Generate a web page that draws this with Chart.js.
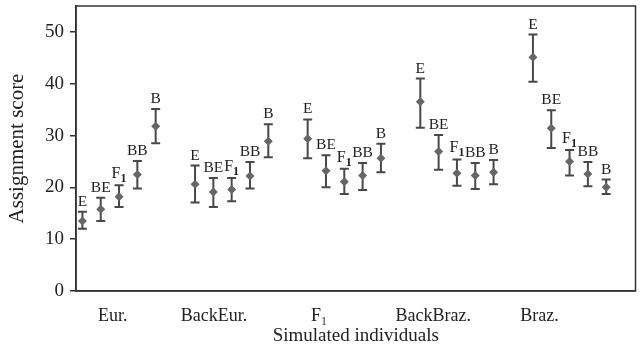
<!DOCTYPE html>
<html>
<head>
<meta charset="utf-8">
<script src="https://cdn.jsdelivr.net/npm/chart.js@4.4.1/dist/chart.umd.min.js"></script>
<style>
    body { margin: 0; background: #fff; }
    #wrap { width: 640px; height: 347px; position: relative; }
</style>
</head>
<body>
<div id="wrap"><canvas id="scoreChart"></canvas></div>
<script>
const groups = ["Eur.", "BackEur.", "F\u2081", "BackBraz.", "Braz."];
const classes = ["E", "BE", "F1", "BB", "B"];

// mean assignment score per group, one value per simulated class
const eurMean = [13.5, 15.8, 18.2, 22.5, 31.8];
const backEurMean = [20.6, 19.1, 19.6, 22.2, 28.9];
const f1Mean = [29.4, 23.2, 21.1, 22.3, 25.6];
const backBrazMean = [36.5, 26.9, 22.7, 22.3, 22.9];
const brazMean = [45.1, 31.4, 25.0, 22.6, 20.0];

// upper / lower ends of the error bars
const eurHigh = [15.3, 18.0, 20.4, 25.1, 35.1];
const eurLow = [12.0, 13.5, 16.2, 19.8, 28.5];
const backEurHigh = [24.2, 21.8, 21.8, 24.9, 32.2];
const backEurLow = [17.1, 16.2, 17.3, 19.8, 25.8];
const f1High = [33.1, 26.2, 23.6, 24.7, 28.4];
const f1Low = [25.6, 20.0, 18.7, 19.5, 22.9];
const backBrazHigh = [41.0, 30.1, 25.4, 24.7, 25.3];
const backBrazLow = [31.5, 23.4, 20.3, 19.7, 20.6];
const brazHigh = [49.5, 34.9, 27.2, 24.9, 21.5];
const brazLow = [40.4, 27.6, 22.3, 20.2, 18.7];

const yTicks = [0, 10, 20, 30, 40, 50];
const groupTickPos = [1.65, 7.18, 12.93, 19.16, 24.96];

const means = [eurMean, backEurMean, f1Mean, backBrazMean, brazMean];
const highs = [eurHigh, backEurHigh, f1High, backBrazHigh, brazHigh];
const lows = [eurLow, backEurLow, f1Low, backBrazLow, brazLow];

const GROUP_GAP = 6.15;
const SERIF = "'Liberation Serif', 'Times New Roman', serif";

const points = [];
const bars = [];
means.forEach((row, g) => {
    row.forEach((v, m) => {
        const x = g * GROUP_GAP + m;
        points.push({ x: x, y: v });
        bars.push({ x: x, hi: highs[g][m], lo: lows[g][m], cls: classes[m] });
    });
});

const errorBars = {
    id: "errorBars",
    beforeDatasetsDraw(chart) {
        const { ctx, scales: { x, y } } = chart;
        ctx.save();
        ctx.strokeStyle = "#484848";
        ctx.lineWidth = 2;
        bars.forEach(b => {
            const px = x.getPixelForValue(b.x);
            const top = y.getPixelForValue(b.hi);
            const bot = y.getPixelForValue(b.lo);
            ctx.beginPath();
            ctx.moveTo(px, top); ctx.lineTo(px, bot);
            ctx.moveTo(px - 4.5, top); ctx.lineTo(px + 4.5, top);
            ctx.moveTo(px - 4.5, bot); ctx.lineTo(px + 4.5, bot);
            ctx.stroke();
        });
        ctx.restore();
    },
    afterDatasetsDraw(chart) {
        const { ctx, scales: { x, y }, chartArea } = chart;
        ctx.save();
        ctx.fillStyle = "#222";
        ctx.textBaseline = "alphabetic";
        bars.forEach(b => {
            const px = x.getPixelForValue(b.x);
            const base = y.getPixelForValue(b.hi) - 6;
            if (b.cls === "F1") {
                ctx.font = "16px " + SERIF;
                const wF = ctx.measureText("F").width;
                ctx.font = "bold 12px " + SERIF;
                const w1 = ctx.measureText("1").width;
                const start = px - (wF + w1) / 2;
                ctx.textAlign = "left";
                ctx.font = "16px " + SERIF;
                ctx.fillText("F", start, base - 1);
                ctx.font = "bold 12px " + SERIF;
                ctx.fillText("1", start + wF, base + 3);
            } else {
                ctx.textAlign = "center";
                ctx.font = "15.5px " + SERIF;
                ctx.fillText(b.cls, px, base);
            }
        });
        // frame
        ctx.strokeStyle = "#333";
        ctx.lineWidth = 1.5;
        ctx.strokeRect(chartArea.left, chartArea.top, chartArea.right - chartArea.left, chartArea.bottom - chartArea.top);
        ctx.restore();
    }
};

new Chart(document.getElementById("scoreChart"), {
    type: "scatter",
    data: {
        datasets: [{
            label: "Assignment score",
            data: points,
            pointStyle: "rectRot",
            pointRadius: 4.5,
            backgroundColor: "#666",
            borderColor: "#666",
            borderWidth: 0
        }]
    },
    options: {
        responsive: true,
        maintainAspectRatio: false,
        animation: false,
        layout: { padding: { top: 6, right: 1, left: 0, bottom: 0 } },
        plugins: {
            legend: { display: false },
            tooltip: { enabled: false }
        },
        scales: {
            x: {
                type: "linear",
                min: -0.35,
                max: 30.2,
                afterBuildTicks: scale => {
                    scale.ticks = groupTickPos.map(v => ({ value: v }));
                },
                afterFit: scale => {
                    scale.height = 56;
                    scale.paddingLeft = 0;
                    scale.paddingRight = 0;
                },
                grid: { drawOnChartArea: false, drawTicks: false },
                border: { display: true, color: "#333", width: 1.5 },
                ticks: {
                    autoSkip: false,
                    maxRotation: 0,
                    padding: 14,
                    color: "#222",
                    font: { family: SERIF, size: 18 },
                    callback: (value, index) => groups[index]
                },
                title: {
                    display: true,
                    text: "Simulated individuals",
                    color: "#222",
                    font: { family: SERIF, size: 19 },
                    padding: { top: 0, bottom: 0 }
                }
            },
            y: {
                min: 0,
                max: 55,
                afterBuildTicks: scale => {
                    scale.ticks = yTicks.map(v => ({ value: v }));
                },
                afterFit: scale => {
                    scale.width = 76;
                    scale.paddingTop = 0;
                    scale.paddingBottom = 0;
                },
                grid: { drawOnChartArea: false, drawTicks: true, tickLength: 6, color: "#333", lineWidth: 1.5 },
                border: { display: true, color: "#333", width: 1.5 },
                ticks: {
                    padding: 6,
                    color: "#222",
                    font: { family: SERIF, size: 19 }
                },
                title: {
                    display: true,
                    text: "Assignment score",
                    color: "#222",
                    font: { family: SERIF, size: 21 },
                    padding: { top: 5, bottom: 0 }
                }
            }
        }
    },
    plugins: [errorBars]
});
</script>
</body>
</html>
